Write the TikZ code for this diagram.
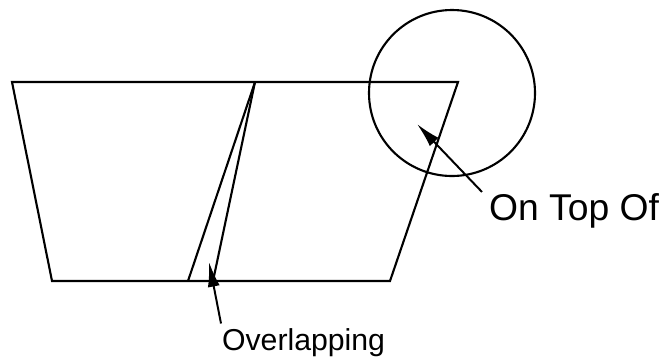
\documentclass[tikz,border=0pt]{standalone}
\usepackage{fontspec}
\setmainfont{Liberation Sans}
\usetikzlibrary{arrows.meta, positioning}

\begin{document}
\begin{tikzpicture}[x=0.025cm, y=-0.025cm, line width=1.5pt,
    edge/.style={draw, line join=miter},
    leader/.style={-{Latex[length=0.62cm, width=0.3cm]}, line width=1.4pt},
    lbl/.style={inner xsep=0pt, inner ysep=0pt, anchor=base west}]
    \useasboundingbox (0,0) rectangle (663,358);
    % corners of the two shapes
    \coordinate (lt) at (12,82);
    \coordinate (mt) at (255,82);
    \coordinate (rt) at (458,82);
    \coordinate (lb) at (52,281);
    \coordinate (mb) at (188,281);
    \coordinate (ob) at (213,281);
    \coordinate (rb) at (390,281);
    \draw[edge] (lt) -- (rt) -- (rb) -- (lb) -- cycle;
    \draw (mt) -- (mb);
    \draw (mt) -- (ob);
    \draw (452,93) circle (83);
    % targets of the arrows
    \coordinate (ovtip) at (209,262);
    \coordinate (toptip) at (417,124);
    \node[lbl, font=\fontsize{21.5}{24}\selectfont, inner ysep=2.5pt] (overlap) at (221,350) {Overlapping};
    \node[lbl, font=\fontsize{26.5}{30}\selectfont, inner xsep=4.3pt] (ontop) at (482,220) {On Top Of};
    \draw[leader] (overlap.north west) -- (ovtip);
    \draw[leader] (ontop.north west) -- (toptip);
\end{tikzpicture}
\end{document}
